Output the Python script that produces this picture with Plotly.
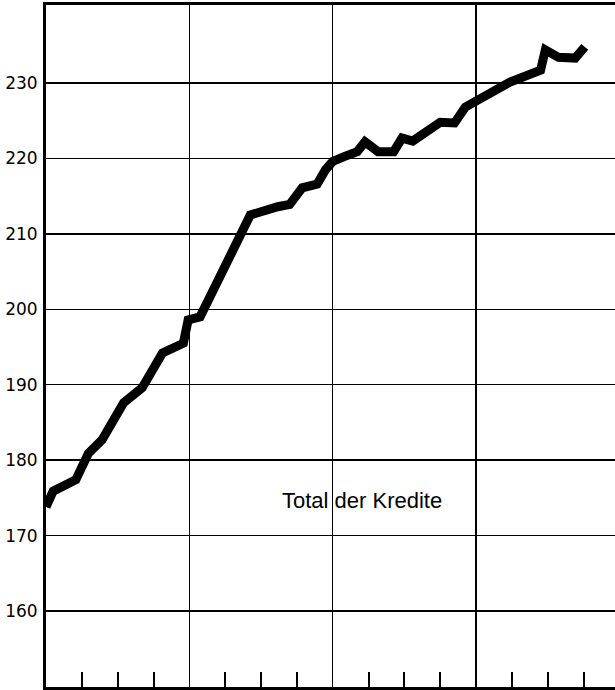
import plotly.graph_objects as go

# Month index (0 = start of first year) and credit totals
months = [0.0, 0.6, 2.5, 3.55, 4.7, 6.5, 8.05, 9.75, 11.5, 11.9, 12.9, 17.1, 19.4, 20.4,
          21.45, 22.7, 23.4, 24.0, 24.9, 26.05, 26.7, 27.8, 29.1, 29.8, 30.7, 33.0,
          34.2, 35.1, 36.1, 38.8, 41.4, 41.8, 42.9, 44.3, 45.1]
credits = [173.8, 175.9, 177.4, 180.9, 182.7, 187.6, 189.6, 194.2, 195.5, 198.6, 199.0,
           212.5, 213.6, 213.9, 216.1, 216.6, 218.5, 219.6, 220.2, 220.9, 222.2, 220.9,
           220.9, 222.7, 222.3, 224.8, 224.7, 226.8, 227.7, 230.1, 231.7, 234.4, 233.4,
           233.3, 234.8]

y_ticks = [160, 170, 180, 190, 200, 210, 220, 230]
y_labels = ["160", "170", "180", "190", "200", "210", "220", "230"]
series_label = "Total der Kredite"

fig = go.Figure()
fig.add_trace(go.Scatter(x=months, y=credits, mode="lines",
                         line=dict(color="black", width=9),
                         hoverinfo="skip", showlegend=False))

fig.add_annotation(x=26.47, y=174.7, text=series_label, showarrow=False,
                   font=dict(family="Liberation Sans, Arial", size=22, color="black"),
                   xanchor="center", yanchor="middle", bgcolor="rgba(0,0,0,0)")

fig.update_layout(
    width=615, height=690,
    margin=dict(l=46, r=0, t=5, b=3),
    paper_bgcolor="white", plot_bgcolor="white",
    showlegend=False,
    xaxis=dict(range=[0, 47.63], tickmode="linear", tick0=0, dtick=12,
               showgrid=True, gridcolor="black", gridwidth=1.5,
               showticklabels=False, ticks="", zeroline=False,
               showline=True, linecolor="black", linewidth=3, mirror=True,
               minor=dict(tickmode="linear", tick0=0, dtick=3, ticks="inside",
                          ticklen=15, tickwidth=2, tickcolor="black", showgrid=False)),
    yaxis=dict(range=[149.93, 240.34], tickmode="array", tickvals=y_ticks, ticktext=y_labels,
               showgrid=True, gridcolor="black", gridwidth=1.5, zeroline=False,
               ticks="", ticklabelstandoff=2,
               showline=True, linecolor="black", linewidth=3, mirror=False,
               tickfont=dict(family="DejaVu Sans", size=17, color="black")),
)

fig.write_html("out.html", config={"displayModeBar": False, "staticPlot": True},
               post_script="document.body.style.margin='0';document.body.style.overflow='hidden';")
